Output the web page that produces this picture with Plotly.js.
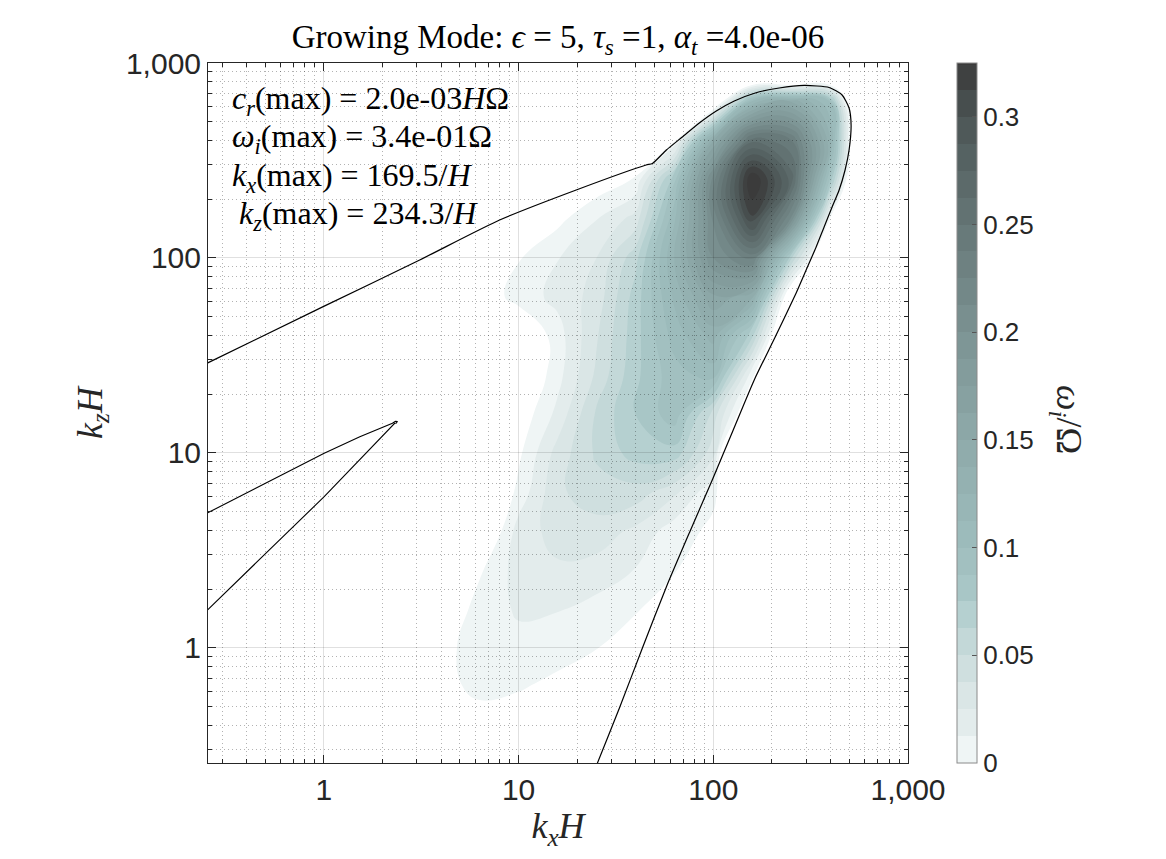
<!DOCTYPE html>
<html>
<head>
<meta charset="utf-8">
<script src="https://cdn.plot.ly/plotly-3.0.1.min.js"></script>
<style>
html,body{margin:0;padding:0;background:#fff;}
#chart{width:1166px;height:859px;}
</style>
</head>
<body>
<div id="chart"></div>
<script>
// ---- grid coordinates (k_x H, k_z H), 0.2-decade spacing ----
const kxGrid = [0.2512, 0.3981, 0.631, 1, 1.585, 2.512, 3.981, 6.31, 10, 15.85, 25.12, 39.81, 63.1, 100, 158.5, 251.2, 398.1, 631, 1000];
const kzGrid = [0.2512, 0.3981, 0.631, 1, 1.585, 2.512, 3.981, 6.31, 10, 15.85, 25.12, 39.81, 63.1, 100, 158.5, 251.2, 398.1, 631, 1000];

// ---- growth rate omega_i / Omega (rows: kz, columns: kx); negative = stable ----
const F = -0.03;
const growthRate = [
  [F,F,F,F,F,F,F,F,F,F,F,F,F,F,F,F,F,F,F],
  [F,F,F,F,F,F,F,-0.012,-0.014,F,F,F,F,F,F,F,F,F,F],
  [F,F,F,F,F,F,-0.008,0.006,0.002,-0.006,F,F,F,F,F,F,F,F,F],
  [F,F,F,F,F,-0.02,-0.005,0.007,0.009,0.009,0.001,-0.015,F,F,F,F,F,F,F],
  [F,F,F,F,F,F,-0.015,0.006,0.014,0.013,0.008,0.0025,-0.015,F,F,F,F,F,F],
  [F,F,F,F,F,F,F,-0.002,0.018,0.023,0.02,0.012,0.002,F,F,F,F,F,F],
  [F,F,F,F,F,F,F,-0.023,0.018,0.03,0.032,0.022,0.006,-0.003,F,F,F,F,F],
  [F,F,F,F,F,F,F,F,0.004,0.035,0.045,0.045,0.028,0.003,F,F,F,F,F],
  [F,F,F,F,F,F,F,F,-0.003,0.03,0.052,0.068,0.07,0.03,-0.14,F,F,F,F],
  [F,F,F,F,F,F,F,F,-0.01,0.016,0.052,0.075,0.095,0.045,-0.028,F,F,F,F],
  [F,F,F,F,F,F,F,F,-0.02,0.008,0.04,0.072,0.095,0.105,0.003,-0.05,F,F,F],
  [F,F,F,F,F,F,F,F,-0.02,0.007,0.036,0.07,0.105,0.13,0.065,-0.07,F,F,F],
  [F,F,F,F,F,F,F,-0.011,0.006,0.016,0.03,0.068,0.115,0.16,0.14,-0.03,-0.06,F,F],
  [F,F,F,F,F,F,F,-0.02,-0.001,0.012,0.025,0.058,0.125,0.2,0.23,0.065,-0.06,F,F],
  [F,F,F,F,F,F,F,F,F,-0.004,0.012,0.03,0.11,0.215,0.31,0.21,-0.002,-0.1,F],
  [F,F,F,F,F,F,F,F,F,F,-0.01,0.002,0.085,0.22,0.34,0.27,0.085,-0.122,F],
  [F,F,F,F,F,F,F,F,F,F,F,F,-0.002,0.15,0.26,0.24,0.13,-0.125,F],
  [F,F,F,F,F,F,F,F,F,F,F,F,F,-0.035,0.12,0.15,0.1,-0.145,F],
  [F,F,F,F,F,F,F,F,F,F,F,F,F,-0.06,-0.156,-0.195,-0.13,-0.12,F]
];

// ---- marginal-stability curve (outer) ----
const boundaryKx = [0.245, 0.992, 3.107, 7.99, 19.77, 45.2, 48.67, 57.41, 69.34, 84.78, 103.6, 128.2, 164.3, 218.0, 292.9, 393.4, 458.7, 498.2, 510.2, 498.2, 475.2, 442.9, 407.6, 370.8, 337.5, 299.9, 266.5, 207.9, 162.3, 126.6, 98.8, 75.3, 57.4, 43.25, 32.96, 25.42, 24.53];
const boundaryKz = [28.5, 56.3, 97.7, 156.6, 223.3, 299.9, 305.2, 357.9, 417.5, 492.4, 567.3, 638.5, 702.0, 744.6, 766.9, 749.0, 685.6, 587.7, 481.1, 357.9, 282.7, 223.3, 182.6, 144.2, 113.9, 86.8, 66.2, 39.35, 23.68, 13.12, 7.27, 3.89, 2.055, 1.0, 0.492, 0.2572, 0.2367];

// ---- inner wedge curve ----
const wedgeKx = [0.245, 1.004, 1.53, 2.25, 2.33, 2.38, 2.36, 2.31, 1.004, 0.245];
const wedgeKz = [4.85, 9.96, 12.12, 14.2, 14.55, 14.5, 14.25, 14.2, 5.97, 1.52];

// ---- ticks ----
const majorTicks = [1, 10, 100, 1000];
const majorTickText = ['1', '10', '100', '1,000'];
const minorTicks = [0.3,0.4,0.5,0.6,0.7,0.8,0.9,2,3,4,5,6,7,8,9,20,30,40,50,60,70,80,90,200,300,400,500,600,700,800,900];
const cbTicks = [0, 0.05, 0.1, 0.15, 0.2, 0.25, 0.3];
const cbTickText = ['0', '0.05', '0.1', '0.15', '0.2', '0.25', '0.3'];

// ---- texts ----
const titleText = 'Growing Mode: <i>ϵ</i> = 5, <i>τ</i><sub><i>s</i></sub> =1, <i>α</i><sub><i>t</i></sub> =4.0e-06';
const infoLines = [
  '<i>c</i><sub><i>r</i></sub>(max) = 2.0e-03<i>H</i>Ω',
  '<i>ω</i><sub><i>i</i></sub>(max) = 3.4e-01Ω',
  '<i>k</i><sub><i>x</i></sub>(max) = 169.5/<i>H</i>',
  '<i>k</i><sub><i>z</i></sub>(max) = 234.3/<i>H</i>'
];

const serif = 'Liberation Serif, Times New Roman, serif';
const sans = 'Liberation Sans, Arial, Helvetica, sans-serif';

const colorscale = [
  [0.0, '#ffffff'],
  [0.019, '#eff5f5'],
  [0.058, '#e3ecec'],
  [0.096, '#dae6e6'],
  [0.135, '#cfdfdf'],
  [0.173, '#c3d8d8'],
  [0.21, '#b5d0d0'],
  [0.25, '#a8c6c6'],
  [0.31, '#9ebdbd'],
  [0.46, '#8eaaaa'],
  [0.615, '#7c9393'],
  [0.77, '#657676'],
  [0.92, '#4c5656'],
  [1.0, '#3b3b3b']
];

const traces = [
  {
    type: 'contour',
    x: kxGrid, y: kzGrid, z: growthRate,
    xaxis: 'x', yaxis: 'y',
    zmin: 0, zmax: 0.325, zauto: false,
    autocontour: false,
    contours: {start: 0, end: 0.325, size: 0.0125, coloring: 'fill', showlines: false},
    line: {width: 0, smoothing: 1.3},
    colorscale: colorscale,
    hoverinfo: 'skip',
    colorbar: {
      x: 1.07, xanchor: 'left', xpad: 0, ypad: 0,
      y: 0.5, yanchor: 'middle', len: 1, lenmode: 'fraction',
      thickness: 20, outlinewidth: 1, outlinecolor: '#8a8a8a',
      tickmode: 'array', tickvals: cbTicks, ticktext: cbTickText,
      ticks: 'inside', ticklen: 5, tickcolor: '#555',
      tickfont: {family: sans, size: 26, color: '#262626'}
    }
  },
  {
    type: 'scatter', mode: 'lines',
    x: boundaryKx, y: boundaryKz,
    xaxis: 'x2', yaxis: 'y2',
    line: {color: '#000', width: 1.2, shape: 'spline', smoothing: 0.6},
    hoverinfo: 'skip', showlegend: false
  },
  {
    type: 'scatter', mode: 'lines',
    x: wedgeKx, y: wedgeKz,
    xaxis: 'x2', yaxis: 'y2',
    line: {color: '#000', width: 1.1},
    hoverinfo: 'skip', showlegend: false
  }
];

const xRange = [-0.595, 3.0];
const yRange = [-0.59, 3.0];

const hiddenAxis = {type: 'log', visible: false, showgrid: false, zeroline: false, fixedrange: true};

const styledAxis = (range) => ({
  type: 'log', range: range,
  tickmode: 'array', tickvals: majorTicks, ticktext: majorTickText,
  ticks: 'inside', ticklen: 8, tickwidth: 1, tickcolor: '#262626',
  showline: true, linecolor: '#262626', linewidth: 1, mirror: 'ticks',
  showgrid: true, gridcolor: 'rgba(0,0,0,0.12)', gridwidth: 1,
  zeroline: false,
  tickfont: {family: sans, size: 30, color: '#262626'},
  minor: {
    tickmode: 'array', tickvals: minorTicks,
    ticks: 'inside', ticklen: 4, tickcolor: '#262626',
    showgrid: true, gridcolor: 'rgba(0,0,0,0.3)', griddash: '1px,3px', gridwidth: 1
  }
});

const xa2 = styledAxis(xRange);
xa2.anchor = 'y2';
xa2.domain = [0, 1];
xa2.title = {text: '<i>k</i><sub><i>x</i></sub><i>H</i>', font: {family: serif, size: 36, color: '#262626'}, standoff: 4};

const ya2 = styledAxis(yRange);
ya2.anchor = 'x2';
ya2.domain = [0, 1];
ya2.title = {text: '<i>k</i><sub><i>z</i></sub><i>H</i>', font: {family: serif, size: 36, color: '#262626'}, standoff: 12};

const annotations = infoLines.map((t, i) => ({
  text: t, xref: 'paper', yref: 'paper',
  x: i === 3 ? 0.041 : 0.031, y: [0.947, 0.892, 0.837, 0.782][i],
  xanchor: 'left', yanchor: 'middle', showarrow: false,
  font: {family: serif, size: 32, color: '#000'}
}));
annotations.push({
  text: '<i>ω</i><sub><i>i</i></sub>/Ω', xref: 'paper', yref: 'paper',
  x: 1.227, y: 0.49, xanchor: 'center', yanchor: 'middle', textangle: 90,
  showarrow: false, font: {family: serif, size: 36, color: '#262626'}
});

const layout = {
  width: 1166, height: 859,
  margin: {l: 208, r: 258, t: 63, b: 96},
  paper_bgcolor: '#ffffff', plot_bgcolor: 'rgba(0,0,0,0)',
  showlegend: false,
  title: {text: titleText, font: {family: serif, size: 33, color: '#000'}, x: 0.4785, xanchor: 'center', y: 0.958, yanchor: 'middle'},
  xaxis: Object.assign({}, hiddenAxis, {range: xRange, domain: [0, 1], anchor: 'y'}),
  yaxis: Object.assign({}, hiddenAxis, {range: yRange, domain: [0, 1], anchor: 'x'}),
  xaxis2: xa2,
  yaxis2: ya2,
  annotations: annotations
};

Plotly.newPlot('chart', traces, layout, {displayModeBar: false, staticPlot: true});
</script>
</body>
</html>
